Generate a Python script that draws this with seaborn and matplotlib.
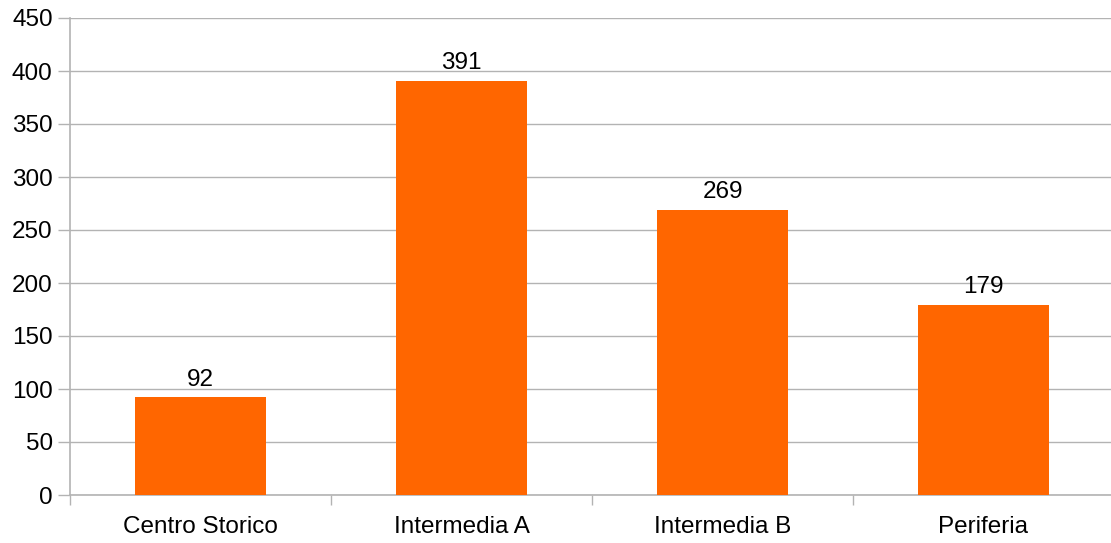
import matplotlib
matplotlib.use("Agg")
import matplotlib.pyplot as plt
import seaborn as sns
import pandas as pd
from matplotlib.ticker import FixedLocator

zones = ["Centro Storico", "Intermedia A", "Intermedia B", "Periferia"]
counts = [92, 391, 269, 179]
y_ticks = [0, 50, 100, 150, 200, 250, 300, 350, 400, 450]

sns.set_style("white")
plt.rcParams["font.family"] = ["Liberation Sans", "DejaVu Sans"]
plt.rcParams["font.size"] = 17.5

df = pd.DataFrame({"zone": zones, "count": counts})

fig = plt.figure(figsize=(11.11, 5.43), dpi=100)
ax = fig.add_axes([70 / 1111, 48 / 543, 1044 / 1111, 477 / 543])

sns.barplot(data=df, x="zone", y="count", color="#ff6600", width=0.5,
            saturation=1, linewidth=0, ax=ax, zorder=3)

ax.set_xlim(-0.5, len(zones) - 0.5)
ax.set_ylim(0, 450)
ax.set_yticks(y_ticks)
ax.yaxis.grid(True, color="#b3b3b3", linewidth=1, zorder=0)
ax.set_axisbelow(True)

for s in ["top", "right"]:
    ax.spines[s].set_visible(False)
for s in ["left", "bottom"]:
    ax.spines[s].set_color("#b3b3b3")
    ax.spines[s].set_linewidth(1.2)

ax.tick_params(axis="y", length=8.5, width=1, color="#b3b3b3", pad=4,
               labelsize=17.5, labelcolor="black", left=True)
ax.tick_params(axis="x", which="major", length=0, pad=15,
               labelsize=17.5, labelcolor="black")
ax.xaxis.set_minor_locator(FixedLocator([i - 0.5 for i in range(len(zones) + 1)]))
ax.tick_params(axis="x", which="minor", length=7.5, width=1, color="#b3b3b3",
               bottom=True)

ax.set_xlabel("")
ax.set_ylabel("")

for c in ax.containers:
    ax.bar_label(c, labels=[str(v) for v in counts], padding=5, fontsize=17.5,
                 color="black")

fig.savefig("out.png", dpi=100)
